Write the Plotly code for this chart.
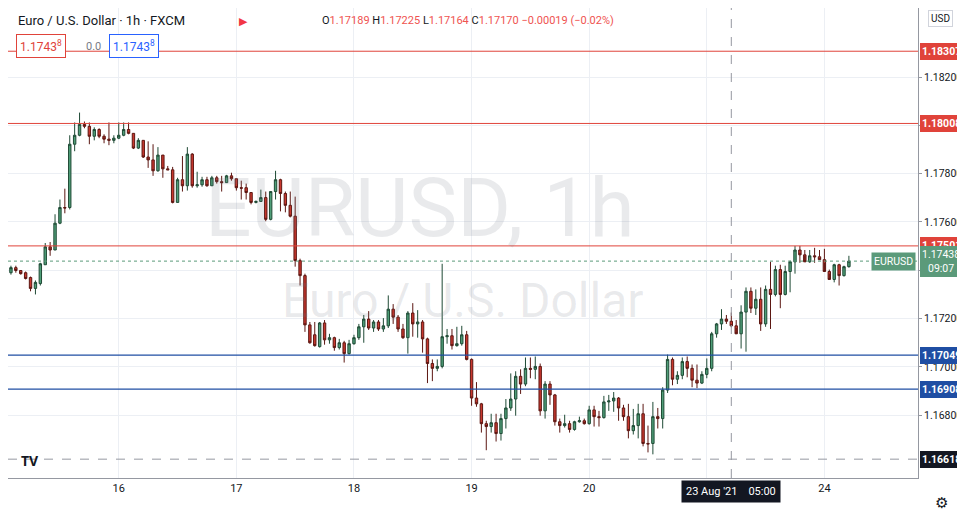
import plotly.graph_objects as go

opens = [1.17390,1.17411,1.17399,1.17390,1.17370,1.17325,1.17345,1.17423,1.17497,1.17484,1.17595,1.17660,1.17660,1.17922,1.17959,1.18004,1.17996,1.17955,1.17983,1.17955,
1.17943,1.17938,1.17947,1.17959,1.17983,1.17967,1.17906,1.17938,1.17869,1.17857,1.17812,1.17877,1.17820,1.17816,1.17681,1.17775,1.17750,1.17881,1.17750,1.17754,
1.17775,1.17750,1.17783,1.17767,1.17763,1.17791,1.17779,1.17742,1.17742,1.17722,1.17681,1.17685,1.17701,1.17611,1.17726,1.17775,1.17718,1.17669,1.17624,1.17440,
1.17378,1.17174,1.17133,1.17084,1.17182,1.17112,1.17121,1.17080,1.17100,1.17055,1.17096,1.17121,1.17166,1.17198,1.17161,1.17186,1.17157,1.17170,1.17239,1.17206,
1.17157,1.17121,1.17223,1.17178,1.17186,1.17116,1.17014,1.16994,1.17002,1.17125,1.17129,1.17088,1.17096,1.17133,1.17031,1.16871,1.16847,1.16765,1.16753,1.16769,
1.16724,1.16786,1.16830,1.16867,1.16961,1.16929,1.16994,1.16990,1.17002,1.16818,1.16929,1.16884,1.16773,1.16757,1.16765,1.16741,1.16773,1.16777,1.16765,1.16822,
1.16794,1.16790,1.16855,1.16859,1.16871,1.16830,1.16794,1.16736,1.16757,1.16806,1.16683,1.16683,1.16794,1.16786,1.16904,1.17031,1.16949,1.16965,1.17022,1.16994,
1.16945,1.16933,1.16969,1.16994,1.17137,1.17178,1.17198,1.17189,1.17170,1.17137,1.17227,1.17313,1.17243,1.17280,1.17178,1.17321,1.17300,1.17403,1.17300,1.17395,
1.17435,1.17484,1.17464,1.17435,1.17460,1.17456,1.17444,1.17395,1.17362,1.17423,1.17378,1.17415]
highs = [1.17419,1.17419,1.17399,1.17395,1.17374,1.17358,1.17431,1.17513,1.17517,1.17632,1.17693,1.17738,1.17959,1.18012,1.18053,1.18016,1.18012,1.17992,1.17988,1.17963,
1.18012,1.17959,1.18012,1.18012,1.18012,1.17967,1.17947,1.17938,1.17934,1.17922,1.17910,1.17877,1.17832,1.17828,1.17783,1.17873,1.17910,1.17885,1.17808,1.17787,
1.17787,1.17791,1.17791,1.17791,1.17795,1.17804,1.17779,1.17771,1.17759,1.17722,1.17689,1.17734,1.17726,1.17726,1.17812,1.17779,1.17726,1.17726,1.17705,1.17448,
1.17386,1.17186,1.17186,1.17186,1.17194,1.17137,1.17125,1.17116,1.17108,1.17112,1.17133,1.17178,1.17215,1.17231,1.17194,1.17194,1.17202,1.17296,1.17260,1.17215,
1.17178,1.17231,1.17264,1.17235,1.17194,1.17121,1.17031,1.17031,1.17427,1.17157,1.17157,1.17166,1.17170,1.17149,1.17035,1.16937,1.16851,1.16777,1.16806,1.16806,
1.16806,1.16867,1.16973,1.16982,1.16990,1.17039,1.17039,1.17043,1.17014,1.16941,1.16941,1.16888,1.16786,1.16802,1.16777,1.16777,1.16794,1.16786,1.16839,1.16839,
1.16818,1.16880,1.16884,1.16896,1.16875,1.16843,1.16847,1.16826,1.16847,1.16847,1.16757,1.16855,1.16830,1.16916,1.17051,1.17039,1.16982,1.17039,1.17043,1.17010,
1.17010,1.16982,1.17035,1.17145,1.17182,1.17239,1.17215,1.17225,1.17194,1.17255,1.17329,1.17329,1.17321,1.17329,1.17337,1.17435,1.17419,1.17423,1.17419,1.17440,
1.17501,1.17501,1.17484,1.17484,1.17493,1.17484,1.17489,1.17403,1.17427,1.17427,1.17419,1.17460]
lows = [1.17382,1.17390,1.17382,1.17362,1.17313,1.17300,1.17337,1.17423,1.17460,1.17484,1.17591,1.17636,1.17652,1.17893,1.17955,1.17988,1.17922,1.17938,1.17947,1.17926,
1.17918,1.17926,1.17943,1.17955,1.17963,1.17902,1.17902,1.17865,1.17824,1.17791,1.17808,1.17783,1.17816,1.17677,1.17681,1.17726,1.17730,1.17742,1.17742,1.17746,
1.17746,1.17750,1.17759,1.17726,1.17763,1.17771,1.17730,1.17693,1.17693,1.17673,1.17677,1.17685,1.17603,1.17607,1.17693,1.17644,1.17640,1.17619,1.17415,1.17337,
1.17145,1.17096,1.17084,1.17080,1.17092,1.17096,1.17067,1.17072,1.17018,1.17051,1.17092,1.17112,1.17100,1.17153,1.17145,1.17149,1.17145,1.17161,1.17178,1.17145,
1.17116,1.17055,1.17125,1.17121,1.17059,1.16933,1.16941,1.16982,1.16994,1.17096,1.17072,1.17084,1.17088,1.17027,1.16839,1.16835,1.16728,1.16655,1.16728,1.16691,
1.16695,1.16745,1.16818,1.16798,1.16888,1.16920,1.16953,1.16949,1.16798,1.16786,1.16843,1.16757,1.16728,1.16749,1.16728,1.16736,1.16769,1.16761,1.16761,1.16753,
1.16753,1.16786,1.16818,1.16814,1.16777,1.16777,1.16704,1.16720,1.16704,1.16671,1.16646,1.16638,1.16745,1.16745,1.16892,1.16924,1.16929,1.16949,1.16957,1.16916,
1.16912,1.16929,1.16953,1.16982,1.17121,1.17153,1.17178,1.17164,1.17161,1.17076,1.17063,1.17223,1.17215,1.17149,1.17166,1.17157,1.17292,1.17243,1.17296,1.17309,
1.17386,1.17431,1.17460,1.17431,1.17431,1.17444,1.17431,1.17386,1.17350,1.17337,1.17374,1.17411]
closes = [1.17411,1.17399,1.17386,1.17366,1.17325,1.17350,1.17427,1.17497,1.17484,1.17595,1.17660,1.17658,1.17922,1.17959,1.18004,1.17996,1.17955,1.17983,1.17955,1.17943,
1.17938,1.17947,1.17959,1.17983,1.17967,1.17906,1.17938,1.17869,1.17857,1.17812,1.17877,1.17820,1.17816,1.17681,1.17775,1.17750,1.17881,1.17750,1.17754,1.17775,
1.17750,1.17783,1.17767,1.17763,1.17791,1.17779,1.17742,1.17740,1.17722,1.17681,1.17685,1.17701,1.17611,1.17726,1.17775,1.17718,1.17669,1.17624,1.17440,1.17378,
1.17174,1.17100,1.17088,1.17182,1.17112,1.17121,1.17080,1.17100,1.17055,1.17096,1.17121,1.17166,1.17198,1.17161,1.17186,1.17157,1.17170,1.17239,1.17206,1.17157,
1.17121,1.17223,1.17178,1.17186,1.17116,1.17014,1.16994,1.17002,1.17125,1.17129,1.17088,1.17096,1.17133,1.17031,1.16871,1.16847,1.16765,1.16753,1.16769,1.16724,
1.16786,1.16830,1.16867,1.16961,1.16929,1.16994,1.16990,1.17002,1.16818,1.16929,1.16884,1.16773,1.16757,1.16765,1.16741,1.16773,1.16777,1.16765,1.16822,1.16794,
1.16790,1.16855,1.16859,1.16871,1.16830,1.16794,1.16736,1.16757,1.16806,1.16683,1.16681,1.16794,1.16786,1.16904,1.17031,1.16949,1.16965,1.17022,1.16994,1.16945,
1.16933,1.16969,1.16994,1.17137,1.17178,1.17198,1.17189,1.17170,1.17137,1.17227,1.17313,1.17243,1.17280,1.17178,1.17321,1.17300,1.17403,1.17300,1.17395,1.17435,
1.17484,1.17464,1.17435,1.17460,1.17456,1.17444,1.17395,1.17362,1.17423,1.17378,1.17415,1.17438]

day_ticks = [22, 46, 70, 94, 118, 142, 166]
day_labels = ["16", "17", "18", "19", "20", "", "24"]
price_ticks = [1.168, 1.170, 1.172, 1.174, 1.176, 1.178, 1.180, 1.182]
red_levels = [1.18307, 1.18008, 1.17501]
blue_levels = [1.17049, 1.16908]
cross_price = 1.16618
cross_index = 147
last_price = 1.17438

PW, PH = 910, 470
x = list(range(len(closes)))
fig = go.Figure(go.Candlestick(
    x=x, open=opens, high=highs, low=lows, close=closes,
    increasing=dict(fillcolor="#4f9e78", line=dict(color="#1f4a35", width=1)),
    decreasing=dict(fillcolor="#c8372e", line=dict(color="#5c1712", width=1)),
    whiskerwidth=0, showlegend=False, hoverinfo="skip"))

RED, BLUE = "#e0433a", "#1f4ea3"
for lv in red_levels:
    fig.add_hline(y=lv, line=dict(color=RED, width=1))
for lv in blue_levels:
    fig.add_hline(y=lv, line=dict(color=BLUE, width=1.3))
fig.add_hline(y=last_price, line=dict(color="#5b9a7a", width=1, dash="dot"))
fig.add_hline(y=cross_price, line=dict(color="#9598a1", width=1, dash="dash"))
fig.add_vline(x=cross_index, line=dict(color="#9598a1", width=1, dash="dash"))

ann = []
def tag(y, text, bg, fg="white"):
    ann.append(dict(xref="paper", yref="y", x=(PW + 2) / PW, y=y, xanchor="left", yanchor="middle",
                    text=text, showarrow=False, font=dict(size=10.5, color=fg, family="Roboto"),
                    bgcolor=bg, bordercolor=bg, borderpad=1))
for lv in red_levels:
    tag(lv, "<b>%.5f</b>" % lv, RED)
for lv in blue_levels:
    tag(lv, "<b>%.5f</b>" % lv, BLUE)
tag(cross_price, "<b>%.5f</b>" % cross_price, "#131722")
tag(last_price, "%.5f<br>09:07" % last_price, "#5b9a7a")
ann.append(dict(xref="paper", yref="y", x=(PW - 2) / PW, y=last_price, xanchor="right", yanchor="middle",
                text="EURUSD", showarrow=False, font=dict(size=10.5, color="white", family="Roboto"),
                bgcolor="#5b9a7a", borderpad=2))
ann.append(dict(xref="x", yref="paper", x=cross_index, y=-0.005, yanchor="top", xanchor="center",
                text="23 Aug '21    05:00", showarrow=False, font=dict(size=11, color="white", family="Roboto"),
                bgcolor="#131722", borderpad=4))
ann.append(dict(xref="paper", yref="paper", x=0.453, y=1 - 200 / PH, text="EURUSD, 1h", showarrow=False,
                font=dict(size=82, color="rgba(120,123,134,0.16)", family="Roboto")))
ann.append(dict(xref="paper", yref="paper", x=0.50, y=1 - 292 / PH, text="Euro / U.S. Dollar", showarrow=False,
                font=dict(size=48, color="rgba(120,123,134,0.16)", family="Roboto")))
ann.append(dict(xref="paper", yref="paper", x=8 / PW, y=1 - 12 / PH, xanchor="left", yanchor="middle",
                text="Euro / U.S. Dollar · 1h · FXCM", showarrow=False,
                font=dict(size=13, color="#131722", family="Roboto")))
ann.append(dict(xref="paper", yref="paper", x=312 / PW, y=1 - 12 / PH, xanchor="left", yanchor="middle",
                text="O<span style='color:#ef5350'>1.17189</span> H<span style='color:#ef5350'>1.17225</span> "
                     "L<span style='color:#ef5350'>1.17164</span> C<span style='color:#ef5350'>1.17170</span> "
                     "<span style='color:#ef5350'>−0.00019 (−0.02%)</span>",
                showarrow=False, font=dict(size=11, color="#131722", family="Roboto")))
ann.append(dict(xref="paper", yref="paper", x=8 / PW, y=1 - 38 / PH, xanchor="left", yanchor="middle",
                text="1.1743<sup>8</sup>", showarrow=False, font=dict(size=12, color=RED, family="Roboto"),
                bgcolor="white", bordercolor=RED, borderpad=3))
ann.append(dict(xref="paper", yref="paper", x=76 / PW, y=1 - 38 / PH, xanchor="left", yanchor="middle",
                text="0.0", showarrow=False, font=dict(size=11, color="#787b86", family="Roboto")))
ann.append(dict(xref="paper", yref="paper", x=101 / PW, y=1 - 38 / PH, xanchor="left", yanchor="middle",
                text="1.1743<sup>8</sup>", showarrow=False, font=dict(size=12, color="#2962ff", family="Roboto"),
                bgcolor="white", bordercolor="#2962ff", borderpad=3))
ann.append(dict(xref="paper", yref="paper", x=229 / PW, y=1 - 12 / PH, xanchor="left", yanchor="middle",
                text="▶", showarrow=False, font=dict(size=11, color="#f23645")))
ann.append(dict(xref="paper", yref="paper", x=(PW + 10) / PW, y=1 - 10 / PH, xanchor="left", yanchor="middle",
                text="USD", showarrow=False, font=dict(size=10, color="#131722", family="Roboto"),
                bordercolor="#d1d4dc", borderpad=2))
ann.append(dict(xref="paper", yref="paper", x=(PW + 24) / PW, y=-12 / PH, xanchor="center", yanchor="top",
                text="⚙", showarrow=False, font=dict(size=15, color="#131722")))
ann.append(dict(xref="paper", yref="paper", x=22 / PW, y=1 - 452 / PH, xanchor="center", yanchor="middle",
                text="<b>TV</b>", showarrow=False, font=dict(size=14, color="#131722")))

fig.update_layout(
    width=957, height=502, margin=dict(l=0, r=47, t=0, b=32),
    paper_bgcolor="white", plot_bgcolor="white", annotations=ann,
    xaxis=dict(range=[-0.6, 185.1], rangeslider=dict(visible=False), tickvals=day_ticks, ticktext=day_labels,
               showgrid=True, gridcolor="#eceff4", zeroline=False, showline=True, linecolor="#9598a1",
               ticks="", tickfont=dict(size=11, color="#131722", family="Roboto")),
    yaxis=dict(range=[1.1654, 1.18486], side="right", tickvals=price_ticks,
               ticktext=["%.5f" % p for p in price_ticks], showgrid=True, gridcolor="#eceff4",
               zeroline=False, showline=True, linecolor="#9598a1", ticks="outside", ticklen=3,
               tickcolor="#9598a1", tickfont=dict(size=10.5, color="#131722", family="Roboto")),
)
fig.write_html("out.html")
